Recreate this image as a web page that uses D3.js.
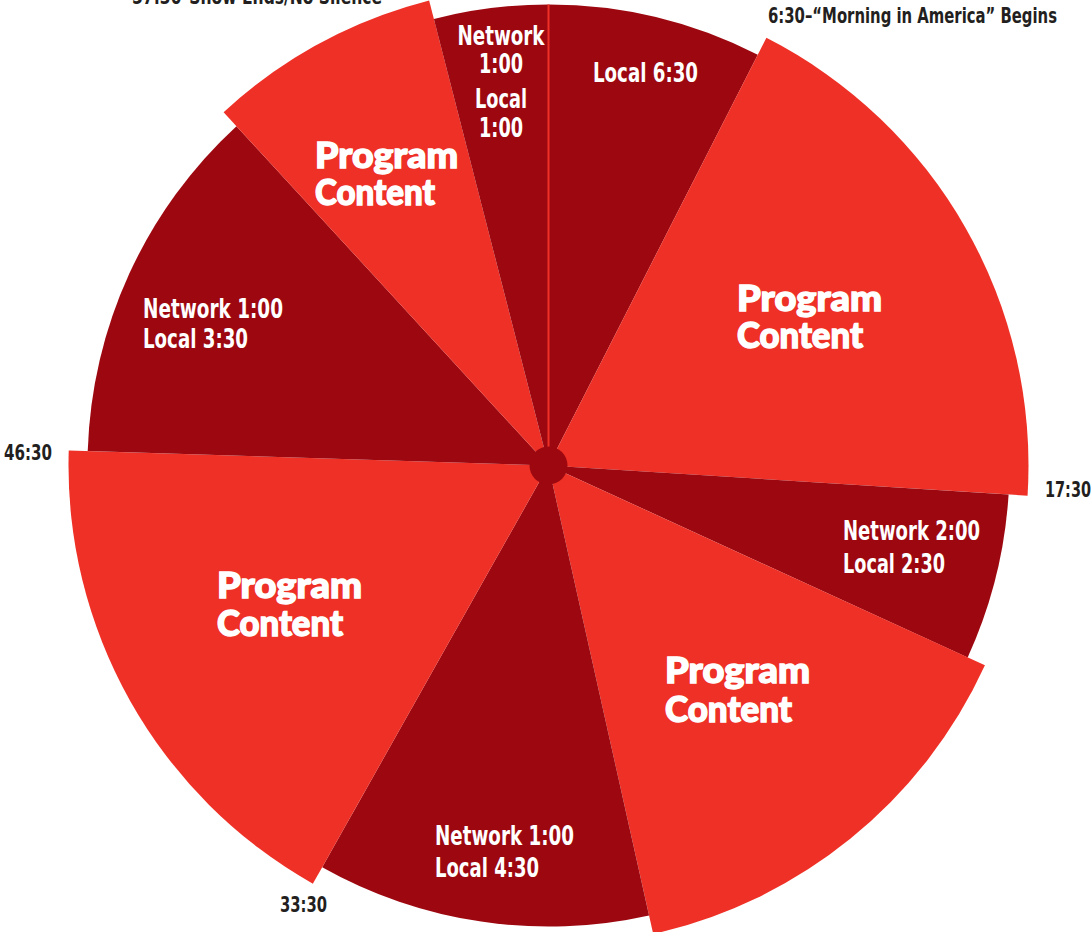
<!DOCTYPE html>
<html>
<head>
<meta charset="utf-8">
<script src="https://cdn.jsdelivr.net/npm/d3@7"></script>
<style>
  body { margin: 0; background: #fff; }
  svg { display: block; }
  .cond { font-family: "Liberation Sans Narrow", "DejaVu Sans Condensed", "DejaVu Sans", sans-serif; font-weight: bold; font-stretch: condensed; }
  .heavy { font-family: Lato, "DejaVu Sans", sans-serif; font-weight: 900; }
</style>
</head>
<body>
<div id="chart"></div>
<script>
// one hour of a broadcast, in minutes, clockwise from the top
var minutes = [4.5, 11.1, 3.5, 8.8, 7, 10.4, 7.6, 4.7, 2.4];
var kinds = ["ad", "program", "ad", "program", "ad", "program", "ad", "program", "ad"];
var sliceText = [
    ["Local 6:30"],
    ["Program", "Content"],
    ["Network 2:00", "Local 2:30"],
    ["Program", "Content"],
    ["Network 1:00", "Local 4:30"],
    ["Program", "Content"],
    ["Network 1:00", "Local 3:30"],
    ["Program", "Content"],
    ["Network", "1:00", "Local", "1:00"]
];
var timeMarks = ["6:30\u2013\u201cMorning in America\u201d Begins", "17:30", "33:30", "46:30", "57:30\u2013Show Ends/No Silence"];

// label layout: x, baselines, text widths
var sliceLayout = [
    {x: 593, y: [82], w: [105]},
    {x: 737, y: [311, 348], w: [145, 126]},
    {x: 843, y: [540, 573], w: [137, 102]},
    {x: 665, y: [683, 722], w: [145, 127]},
    {x: 435, y: [845, 877], w: [139, 104]},
    {x: 217, y: [598, 636], w: [145, 126]},
    {x: 143, y: [318, 348], w: [140, 105]},
    {x: 315, y: [168, 205], w: [143, 120]},
    {x: 501, y: [45, 73, 108, 137], w: [87, 44, 52, 44], anchor: "middle"}
];
var markLayout = [
    {x: 768, y: 23, w: 289},
    {x: 1045, y: 497, w: 46},
    {x: 280, y: 912, w: 47},
    {x: 4, y: 460, w: 48},
    {x: 132, y: 3.5, w: 250}
];

var width = 1092, height = 932;
var cx = 548.5, cy = 465.5;

var svg = d3.select("#chart")
    .append("svg")
    .attr("width", width)
    .attr("height", height);

var radius = d3.scaleOrdinal().domain(["ad", "program"]).range([461, 480]);
var color = d3.scaleOrdinal().domain(["ad", "program"]).range(["#9d0810", "#ee3026"]);

var pie = d3.pie().sort(null).value(function (d) { return d; });
var arcs = pie(minutes);

var g = svg.append("g").attr("transform", "translate(" + cx + "," + cy + ")");

g.selectAll(".slice")
    .data(arcs)
    .enter().append("path")
    .attr("class", "slice")
    .attr("d", function (d, i) {
        return d3.arc().innerRadius(0).outerRadius(radius(kinds[i]))(d);
    })
    .style("fill", function (d, i) { return color(kinds[i]); });

// top of the hour
g.append("line")
    .attr("x1", 0).attr("y1", 0)
    .attr("x2", 0).attr("y2", -radius("ad"))
    .style("stroke", color("program"))
    .style("stroke-width", 2);

g.append("circle")
    .attr("r", 19)
    .style("fill", color("ad"));

// slice labels
sliceText.forEach(function (lines, i) {
    var lay = sliceLayout[i];
    var isProgram = kinds[i] === "program";
    lines.forEach(function (line, j) {
        svg.append("text")
            .attr("class", isProgram ? "heavy" : "cond")
            .attr("x", lay.x)
            .attr("y", lay.y[j])
            .attr("text-anchor", lay.anchor || "start")
            .attr("textLength", lay.w[j])
            .attr("lengthAdjust", "spacingAndGlyphs")
            .style("font-size", isProgram ? "36px" : "26px")
            .style("fill", "#fff")
            .style("stroke", isProgram ? "#fff" : "none")
            .style("stroke-width", isProgram ? 1.4 : 0)
            .text(line);
    });
});

// time marks round the edge
timeMarks.forEach(function (t, i) {
    var lay = markLayout[i];
    svg.append("text")
        .attr("class", "cond")
        .attr("x", lay.x)
        .attr("y", lay.y)
        .attr("textLength", lay.w)
        .attr("lengthAdjust", "spacingAndGlyphs")
        .style("font-size", "21px")
        .style("fill", "#231f20")
        .text(t);
});
</script>
</body>
</html>
